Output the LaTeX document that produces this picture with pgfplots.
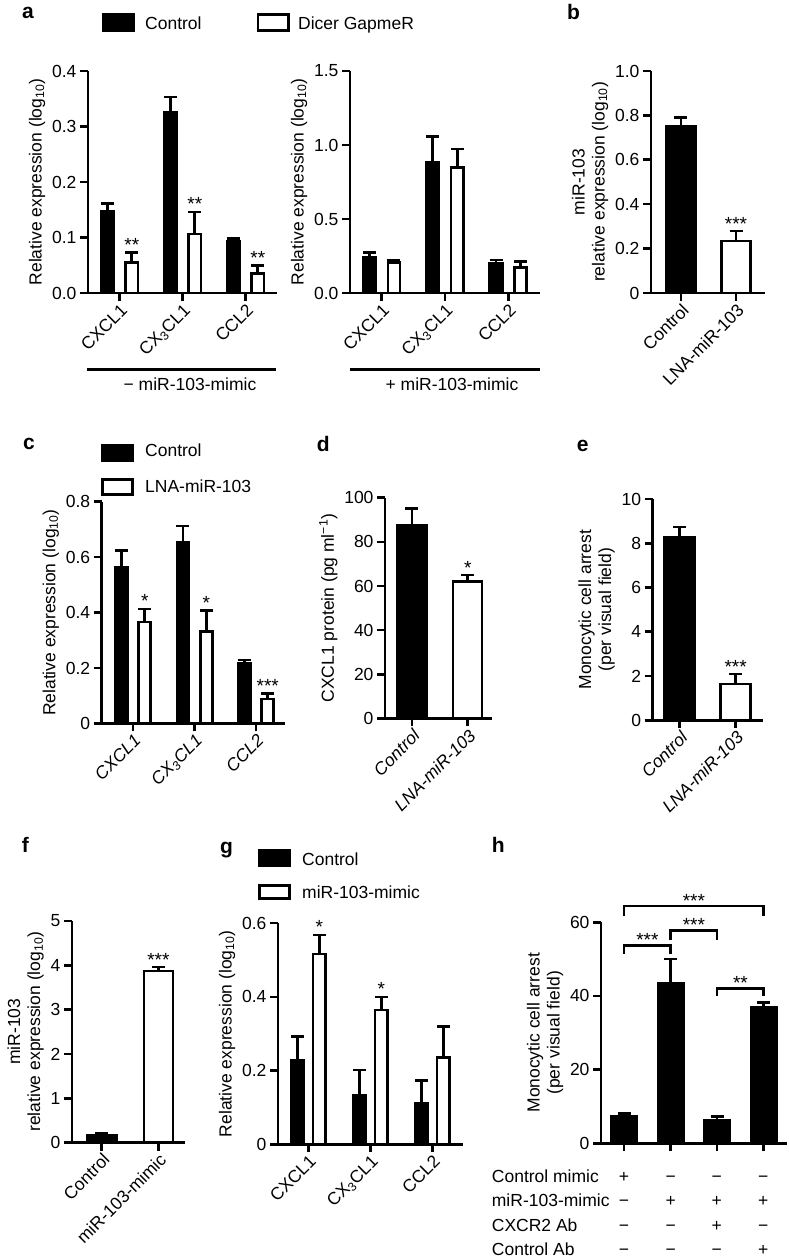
\documentclass[border=0pt]{standalone}
\usepackage{fontspec}
\setmainfont{Liberation Sans}
\usepackage{pgfplots}
\pgfplotsset{compat=1.18}
\newcommand{\fs}{\fontsize{17.5}{20}\selectfont}
\newcommand{\mn}{\char"2212\relax}
\tikzset{
  st/.style={font=\fontsize{19}{19}\selectfont, anchor=base, inner sep=0pt, yshift=1pt},
  lab/.style={font=\fontsize{21}{21}\selectfont\bfseries, anchor=base west, inner sep=0pt},
  tx/.style={font=\fs, inner sep=0pt},
}
\pgfplotsset{
  gp/.style={
    scale only axis, anchor=south west,
    axis x line*=bottom, axis y line*=left,
    axis line style={line width=2.6pt, black},
    tick style={line width=2.6pt, black},
    major tick length=8pt,
    tick align=outside,
    ymin=0, enlargelimits=false, clip=false,
    tick label style={font=\fs},
    label style={font=\fs},
    ylabel style={align=center},
    /pgf/number format/assume math mode=true,
    xticklabel style={rotate=45, anchor=north east, inner sep=1pt},
    xtick={0,1,2},
  },
  bk/.style={ybar, bar shift=0pt, fill=black, draw=black, line width=2.6pt,
    /pgfplots/error bars/y dir=plus, /pgfplots/error bars/y explicit,
    /pgfplots/error bars/error bar style={line width=2.6pt, black},
    /pgfplots/error bars/error mark options={rotate=90, line width=2.6pt, black, mark size=6.5pt}},
  wt/.style={bk, fill=white},
}
\begin{document}
\begin{tikzpicture}
\useasboundingbox (0,0) rectangle (788pt,1259pt);

% ---------------- panel a left
\begin{axis}[gp, at={(88pt,966pt)}, width=189pt, height=222pt,
  xmin=-0.5, xmax=2.5, ymax=0.4,
  ytick={0,0.1,0.2,0.3,0.4}, yticklabels={0.0,0.1,0.2,0.3,0.4},
  xticklabels={CXCL1, CX\textsubscript{3}CL1, CCL2},
  ylabel={Relative expression (log\textsubscript{10})}]
\addplot[bk, bar width=12.8pt] coordinates {(-0.195,0.148) +- (0,0.013) (0.805,0.325) +- (0,0.028) (1.805,0.094) +- (0,0.004)};
\addplot[wt, bar width=12.3pt] coordinates {(0.195,0.055) +- (0,0.018) (1.195,0.106) +- (0,0.040) (2.195,0.035) +- (0,0.015)};
\node[st] at (axis cs:0.195,0.073) {**};
\node[st] at (axis cs:1.195,0.146) {**};
\node[st] at (axis cs:2.195,0.050) {**};
\end{axis}

% ---------------- panel a right
\begin{axis}[gp, at={(350pt,966pt)}, width=190pt, height=222pt,
  xmin=-0.5, xmax=2.5, ymax=1.5,
  ytick={0,0.5,1,1.5}, yticklabels={0.0,0.5,1.0,1.5},
  xticklabels={CXCL1, CX\textsubscript{3}CL1, CCL2},
  ylabel={Relative expression (log\textsubscript{10})}]
\addplot[bk, bar width=12.8pt] coordinates {(-0.194,0.241) +- (0,0.034) (0.806,0.883) +- (0,0.176) (1.806,0.203) +- (0,0.020)};
\addplot[wt, bar width=12.3pt] coordinates {(0.194,0.207) +- (0,0.016) (1.194,0.849) +- (0,0.124) (2.194,0.174) +- (0,0.040)};
\end{axis}

% ---------------- panel b
\begin{axis}[gp, at={(651pt,966pt)}, width=114pt, height=222pt,
  xmin=-0.545, xmax=1.527, ymax=1,
  ytick={0,0.2,0.4,0.6,0.8,1}, yticklabels={0,0.2,0.4,0.6,0.8,1.0},
  xtick={0,1}, xticklabels={Control, LNA-miR-103},
  ylabel={miR-103\\relative expression (log\textsubscript{10})}]
\addplot[bk, bar width=30pt] coordinates {(0,0.751) +- (0,0.039)};
\addplot[wt, bar width=29pt] coordinates {(1,0.234) +- (0,0.045)};
\node[st] at (axis cs:1,0.279) {***};
\end{axis}

% ---------------- panel c
\begin{axis}[gp, at={(101.7pt,535.5pt)}, width=183.3pt, height=221.8pt,
  xmin=-0.51, xmax=2.47, ymax=0.8,
  ytick={0,0.2,0.4,0.6,0.8}, yticklabels={0,0.2,0.4,0.6,0.8},
  xticklabels={CXCL1, CX\textsubscript{3}CL1, CCL2},
  xticklabel style={font=\fs\itshape},
  ylabel={Relative expression (log\textsubscript{10})}]
\addplot[bk, bar width=12pt] coordinates {(-0.19,0.562) +- (0,0.061) (0.81,0.652) +- (0,0.061) (1.81,0.217) +- (0,0.012)};
\addplot[wt, bar width=12pt] coordinates {(0.19,0.366) +- (0,0.047) (1.19,0.331) +- (0,0.076) (2.19,0.088) +- (0,0.021)};
\node[st] at (axis cs:0.19,0.413) {*};
\node[st] at (axis cs:1.19,0.407) {*};
\node[st] at (axis cs:2.19,0.109) {***};
\end{axis}

% ---------------- panel d
\begin{axis}[gp, at={(385pt,540.5pt)}, width=107pt, height=220.8pt,
  xmin=-0.48, xmax=1.435, ymax=100,
  ytick={0,20,40,60,80,100},
  xtick={0,1}, xticklabels={Control, LNA-miR-103},
  xticklabel style={font=\fs\itshape},
  ylabel={CXCL1 protein (pg ml\textsuperscript{\mn1})}]
\addplot[bk, bar width=29pt] coordinates {(0,87.5) +- (0,7.5)};
\addplot[wt, bar width=29pt] coordinates {(1,62.1) +- (0,2.8)};
\node[st] at (axis cs:1,64.9) {*};
\end{axis}

% ---------------- panel e
\begin{axis}[gp, at={(652.7pt,538.7pt)}, width=110.3pt, height=221.3pt,
  xmin=-0.484, xmax=1.49, ymax=10,
  ytick={0,2,4,6,8,10},
  xtick={0,1}, xticklabels={Control, LNA-miR-103},
  xticklabel style={font=\fs\itshape},
  ylabel={Monocytic cell arrest\\(per visual field)}]
\addplot[bk, bar width=30pt] coordinates {(0,8.29) +- (0,0.44)};
\addplot[wt, bar width=30pt] coordinates {(1,1.64) +- (0,0.45)};
\node[st] at (axis cs:1,2.09) {***};
\end{axis}

% ---------------- panel f
\begin{axis}[gp, at={(72pt,116.5pt)}, width=113pt, height=221.5pt,
  xmin=-0.525, xmax=1.47, ymax=5,
  ytick={0,1,2,3,4,5},
  xtick={0,1}, xticklabels={Control, miR-103-mimic},
  ylabel={miR-103\\relative expression (log\textsubscript{10})}]
\addplot[bk, bar width=29pt] coordinates {(0,0.153) +- (0,0.054)};
\addplot[wt, bar width=29pt] coordinates {(1,3.875) +- (0,0.085)};
\node[st] at (axis cs:1,3.96) {***};
\end{axis}

% ---------------- panel g
\begin{axis}[gp, at={(278pt,114.5pt)}, width=185.3pt, height=221.5pt,
  xmin=-0.49, xmax=2.5, ymax=0.6,
  ytick={0,0.2,0.4,0.6}, yticklabels={0,0.2,0.4,0.6},
  xticklabels={CXCL1, CX\textsubscript{3}CL1, CCL2},
  ylabel={Relative expression (log\textsubscript{10})}]
\addplot[bk, bar width=12.4pt] coordinates {(-0.177,0.227) +- (0,0.065) (0.823,0.134) +- (0,0.068) (1.823,0.112) +- (0,0.061)};
\addplot[wt, bar width=12.4pt] coordinates {(0.177,0.516) +- (0,0.052) (1.177,0.364) +- (0,0.036) (2.177,0.235) +- (0,0.084)};
\node[st] at (axis cs:0.177,0.568) {*};
\node[st] at (axis cs:1.177,0.400) {*};
\end{axis}

% ---------------- panel h
\begin{axis}[gp, at={(601pt,115.7pt)}, width=186pt, height=221pt,
  xmin=-0.496, xmax=3.5, ymax=60,
  ytick={0,20,40,60},
  xtick={0,1,2,3}, xticklabels={},
  ylabel={Monocytic cell arrest\\(per visual field)}]
\addplot[bk, bar width=25.4pt] coordinates {(0,7.2) +- (0,0.9) (1,43.4) +- (0,6.6) (2,6.3) +- (0,0.9) (3,36.8) +- (0,1.5)};
\draw[line width=2.6pt] (axis cs:0,51.4) -- (axis cs:0,53.65) -- (axis cs:1,53.65) -- (axis cs:1,51.4);
\node[st, yshift=-2pt] at (axis cs:0.5,53.65) {***};
\draw[line width=2.6pt] (axis cs:1,55.2) -- (axis cs:1,57.7) -- (axis cs:2,57.7) -- (axis cs:2,55.2);
\node[st, yshift=-2pt] at (axis cs:1.5,57.7) {***};
\draw[line width=2.6pt] (axis cs:0,61.7) -- (axis cs:0,64.4) -- (axis cs:3,64.4) -- (axis cs:3,61.7);
\node[st, yshift=-2pt] at (axis cs:1.5,64.4) {***};
\draw[line width=2.6pt] (axis cs:2,40.0) -- (axis cs:2,42.1) -- (axis cs:3,42.1) -- (axis cs:3,40.0);
\node[st, yshift=-2pt] at (axis cs:2.5,42.1) {**};
\end{axis}

% ---------------- panel letters
\node[lab] at (22pt,1240.5pt) {a};
\node[lab] at (567pt,1239.5pt) {b};
\node[lab] at (23pt,809pt) {c};
\node[lab] at (316.7pt,807.5pt) {d};
\node[lab] at (576.7pt,807pt) {e};
\node[lab] at (21.7pt,406pt) {f};
\node[lab] at (220pt,405pt) {g};
\node[lab] at (491.7pt,406pt) {h};

% ---------------- legend a
\fill[black] (101.7pt,1227pt) rectangle (135pt,1246pt);
\node[tx, anchor=base west] at (145pt,1229.7pt) {Control};
\draw[line width=2.6pt] (258pt,1228.3pt) rectangle (288.7pt,1244.7pt);
\node[tx, anchor=base west] at (298pt,1229.7pt) {Dicer GapmeR};
% underlines a
\draw[line width=2.6pt] (87pt,889.7pt) -- (276pt,889.7pt);
\draw[line width=2.6pt] (350pt,889.7pt) -- (540pt,889.7pt);
\node[tx, anchor=base] at (190pt,868pt) {\mn\ miR-103-mimic};
\node[tx, anchor=base] at (452pt,868pt) {+ miR-103-mimic};

% ---------------- legend c
\fill[black] (101pt,797pt) rectangle (134pt,815pt);
\node[tx, anchor=base west] at (145pt,802.3pt) {Control};
\draw[line width=2.6pt] (102.3pt,764.3pt) rectangle (132.7pt,779.7pt);
\node[tx, anchor=base west] at (145pt,766.7pt) {LNA-miR-103};

% ---------------- legend g
\fill[black] (258pt,392pt) rectangle (291pt,410pt);
\node[tx, anchor=base west] at (302pt,393pt) {Control};
\draw[line width=2.6pt] (259.3pt,360.3pt) rectangle (289.7pt,373.7pt);
\node[tx, anchor=base west] at (302pt,360pt) {miR-103-mimic};

% ---------------- table h
\node[tx, anchor=base west] at (491.7pt,76.7pt) {Control mimic};
\node[tx, anchor=base west] at (491.7pt,52.3pt) {miR-103-mimic};
\node[tx, anchor=base west] at (491.7pt,27.3pt) {CXCR2 Ab};
\node[tx, anchor=base west] at (491.7pt,3pt) {Control Ab};
\foreach \x/\a/\b/\c/\d in {624/+/\mn/\mn/\mn, 670.7/\mn/+/\mn/\mn, 716.7/\mn/+/+/\mn, 763.3/\mn/+/\mn/+} {
  \node[tx, anchor=base] at (\x pt,76.7pt) {\a};
  \node[tx, anchor=base] at (\x pt,52.3pt) {\b};
  \node[tx, anchor=base] at (\x pt,27.3pt) {\c};
  \node[tx, anchor=base] at (\x pt,3pt) {\d};
}
\end{tikzpicture}
\end{document}
